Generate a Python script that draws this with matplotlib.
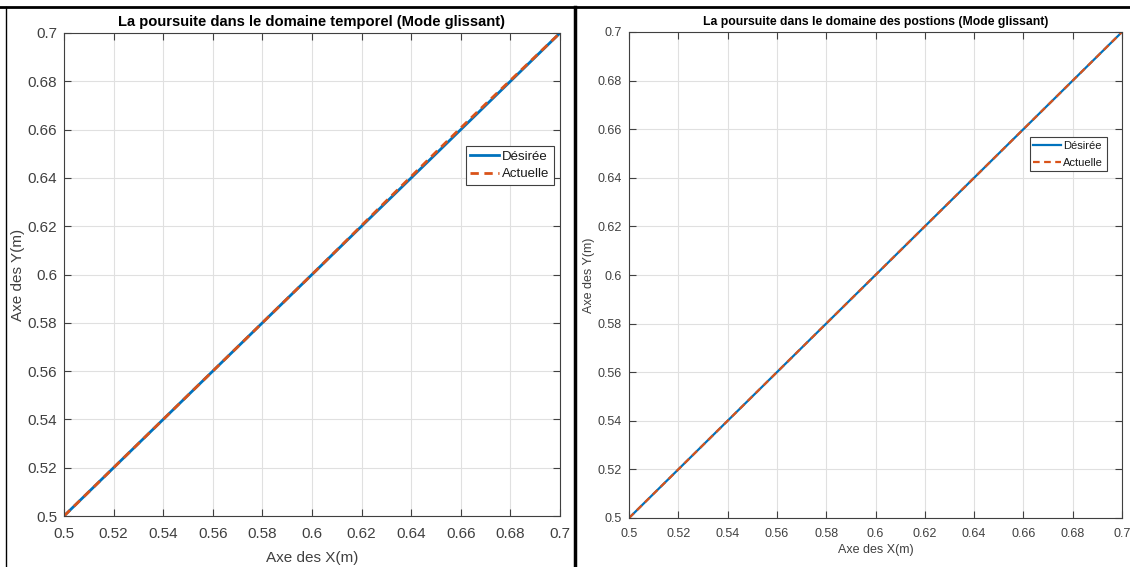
import matplotlib
matplotlib.use("Agg")
import matplotlib.pyplot as plt
from matplotlib.lines import Line2D
import numpy as np

plt.rcParams['font.family'] = ['Liberation Sans', 'DejaVu Sans']

# donnees
x_des = [0.5, 0.55, 0.6, 0.65, 0.7]
y_des = [0.5, 0.55, 0.6, 0.65, 0.7]

# domaine temporel : petit ecart visible autour de 0.62-0.68
x_act_t = [0.5, 0.55, 0.6, 0.61, 0.62, 0.63, 0.64, 0.65, 0.66, 0.67, 0.68, 0.69, 0.7]
y_act_t = [0.5, 0.55, 0.6, 0.6101, 0.6203, 0.6305, 0.6406, 0.6507, 0.6607, 0.6706, 0.6804, 0.6902, 0.7]

# domaine des positions
x_act_p = [0.5, 0.55, 0.6, 0.65, 0.7]
y_act_p = [0.5, 0.55, 0.6, 0.65, 0.7]

ticks = [0.5, 0.52, 0.54, 0.56, 0.58, 0.6, 0.62, 0.64, 0.66, 0.68, 0.7]
tick_labels = ['0.5', '0.52', '0.54', '0.56', '0.58', '0.6', '0.62', '0.64', '0.66', '0.68', '0.7']

blue = (0, 0.447, 0.741)
orange = (0.85, 0.325, 0.098)
grey = (0.25, 0.25, 0.25)

W, H = 1130, 567
fig = plt.figure(figsize=(W / 100, H / 100), dpi=100)


def px_axes(x0, y0, x1, y1):
    return fig.add_axes([x0 / W, (H - y1) / H, (x1 - x0) / W, (y1 - y0) / H])


def style_ax(ax, fs, title, tfs, xa, ya, lab_fs, leg_fs, leg_anchor, tpad, lspace, hlen):
    ax.set_xlim(0.5, 0.7)
    ax.set_ylim(0.5, 0.7)
    ax.set_xticks(ticks)
    ax.set_yticks(ticks)
    ax.set_xticklabels(tick_labels)
    ax.set_yticklabels(tick_labels)
    ax.grid(True, color=(0.88, 0.88, 0.88), linewidth=0.8)
    ax.set_axisbelow(True)
    ax.tick_params(direction='in', top=True, right=True, length=5, width=0.8,
                   color=grey, labelcolor=grey, labelsize=fs)
    ax.tick_params(axis='x', pad=tpad)
    ax.tick_params(axis='y', pad=5)
    for s in ax.spines.values():
        s.set_color(grey)
        s.set_linewidth(0.8)
    ax.set_title(title, fontsize=tfs, fontweight='bold', pad=5)
    ax.set_xlabel('Axe des X(m)', fontsize=lab_fs, color=grey, labelpad=xa)
    ax.set_ylabel('Axe des Y(m)', fontsize=lab_fs, color=grey, labelpad=ya)
    leg = ax.legend(loc='upper right', bbox_to_anchor=leg_anchor, fontsize=leg_fs,
                    fancybox=False, framealpha=1, edgecolor=grey,
                    handlelength=hlen, handletextpad=0.2, borderpad=0.35,
                    labelspacing=lspace, borderaxespad=0)
    leg.get_frame().set_linewidth(0.8)
    for t in leg.get_texts():
        t.set_color((0.1, 0.1, 0.1))


ax1 = px_axes(64, 33, 560, 516)
ax1.plot(x_des, y_des, color=blue, linewidth=2, label='Désirée')
ax1.plot(x_act_t, y_act_t, color=orange, linewidth=2, linestyle=(0, (3, 2)), label='Actuelle')
style_ax(ax1, 11, 'La poursuite dans le domaine temporel (Mode glissant)', 10.6,
         7, 2, 11, 9.5, (0.988, 0.766), 8, 0.4, 2.2)

ax2 = px_axes(629, 32, 1122, 518)
ax2.plot(x_des, y_des, color=blue, linewidth=1.6, label='Désirée')
ax2.plot(x_act_p, y_act_p, color=orange, linewidth=1.6, linestyle=(0, (3, 2)), label='Actuelle')
style_ax(ax2, 9, 'La poursuite dans le domaine des postions (Mode glissant)', 8.8,
         3, 2, 9, 8, (0.970, 0.784), 7, 0.6, 2.5)

# cadres noirs de la capture
fig.add_artist(Line2D([0, 1], [(H - 7) / H, (H - 7) / H], color='black', linewidth=2,
                      transform=fig.transFigure))
fig.add_artist(Line2D([6 / W, 6 / W], [0, (H - 7) / H], color='black', linewidth=1,
                      transform=fig.transFigure))
fig.add_artist(Line2D([575 / W, 575 / W], [0, (H - 7) / H], color='black', linewidth=2.5,
                      transform=fig.transFigure))

fig.savefig('out.png', dpi=100)
